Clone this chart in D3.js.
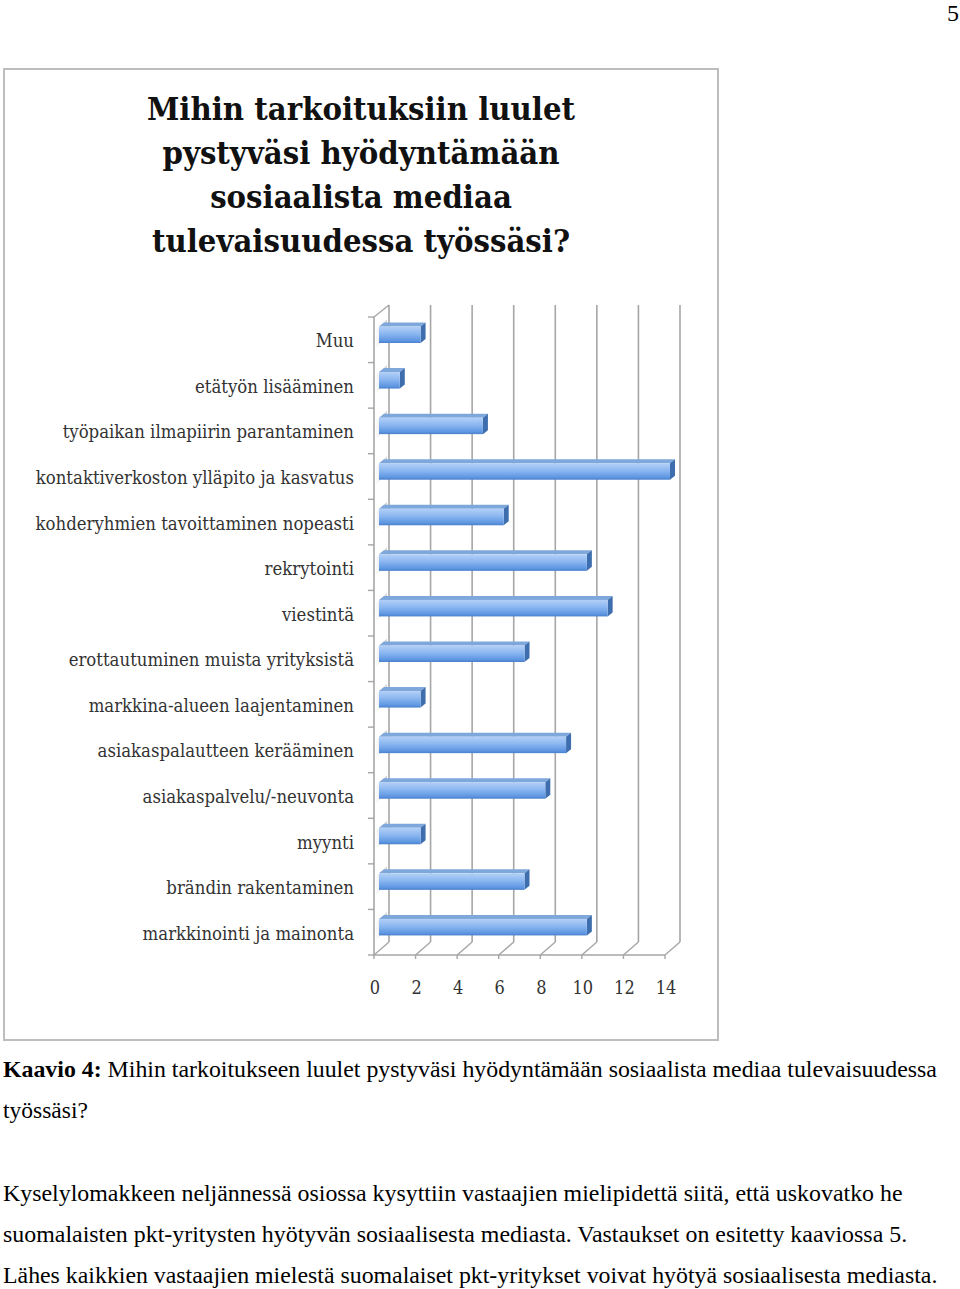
<html>
<head>
<meta charset="utf-8">
<style>
body
{
  margin:0;
  background:#fff;
}
</style>
<script src="https://cdnjs.cloudflare.com/ajax/libs/d3/7.8.5/d3.min.js"></script>
</head>
<body>
<script>
// data
var categories = ["Muu", "etätyön lisääminen", "työpaikan ilmapiirin parantaminen",
  "kontaktiverkoston ylläpito ja kasvatus", "kohderyhmien tavoittaminen nopeasti",
  "rekrytointi", "viestintä", "erottautuminen muista yrityksistä",
  "markkina-alueen laajentaminen", "asiakaspalautteen kerääminen",
  "asiakaspalvelu/-neuvonta", "myynti", "brändin rakentaminen", "markkinointi ja mainonta"];
var values = [2, 1, 5, 14, 6, 10, 11, 7, 2, 9, 8, 2, 7, 10];
var tickValues = [0, 2, 4, 6, 8, 10, 12, 14];
var titleLines = ["Mihin tarkoituksiin luulet", "pystyväsi hyödyntämään", "sosiaalista mediaa", "tulevaisuudessa työssäsi?"];
var captionBold = "Kaavio 4:";
var captionLines = [" Mihin tarkoitukseen luulet pystyväsi hyödyntämään sosiaalista mediaa tulevaisuudessa", "työssäsi?"];
var paraLines = ["Kyselylomakkeen neljännessä osiossa kysyttiin vastaajien mielipidettä siitä, että uskovatko he",
  "suomalaisten pkt-yritysten hyötyvän sosiaalisesta mediasta. Vastaukset on esitetty kaaviossa 5.",
  "Lähes kaikkien vastaajien mielestä suomalaiset pkt-yritykset voivat hyötyä sosiaalisesta mediasta."];

var W = 960, H = 1289;
var svg = d3.select("body").append("svg").attr("width", W).attr("height", H);

var defs = svg.append("defs");
var gFront = defs.append("linearGradient").attr("id", "barFront").attr("x1", 0).attr("y1", 0).attr("x2", 0).attr("y2", 1);
gFront.append("stop").attr("offset", "0%").attr("stop-color", "#b3d0f7");
gFront.append("stop").attr("offset", "45%").attr("stop-color", "#8ab6f0");
gFront.append("stop").attr("offset", "85%").attr("stop-color", "#5f97e2");
gFront.append("stop").attr("offset", "100%").attr("stop-color", "#4a80cc");
var gShadow = defs.append("linearGradient").attr("id", "wallShadow").attr("x1", 1).attr("y1", 0).attr("x2", 0).attr("y2", 0);
gShadow.append("stop").attr("offset", "0%").attr("stop-color", "#c8c8c8");
gShadow.append("stop").attr("offset", "100%").attr("stop-color", "#ffffff");

var serif = "'Liberation Serif', 'Times New Roman', serif";
var cambria = "'DejaVu Serif Condensed', 'DejaVu Serif', serif";

// page number
svg.append("text").attr("x", 959).attr("y", 21).attr("text-anchor", "end")
  .style("font-family", serif).style("font-size", "24px").text("5");

// chart frame
svg.append("rect").attr("x", 4).attr("y", 69).attr("width", 714).attr("height", 971)
  .attr("fill", "none").attr("stroke", "#bdbdbd").attr("stroke-width", 2);

// title
svg.append("g").selectAll("text").data(titleLines).enter().append("text")
  .attr("x", 361).attr("y", function(d, i){ return 120 + i * 44; })
  .attr("text-anchor", "middle")
  .style("font-family", cambria)
  .style("font-weight", "bold").style("font-size", "32.5px").style("fill", "#111")
  .text(function(d){ return d; });

// scales (front plane of the 3D box)
var x = d3.scaleLinear().domain([0, 14]).range([374, 665]);
var y = d3.scaleBand().domain(categories).range([317, 955]);
var depthX = 15, depthY = -13;
var floorY = 955;

var grid = svg.append("g");
// back wall gridlines
grid.selectAll("line.v").data(tickValues).enter().append("line")
  .attr("x1", function(d){ return x(d) + depthX; }).attr("x2", function(d){ return x(d) + depthX; })
  .attr("y1", 305).attr("y2", floorY + depthY)
  .attr("stroke", "#a6a6a6").attr("stroke-width", 1.6);
// floor diagonals
grid.selectAll("line.f").data(tickValues).enter().append("line")
  .attr("x1", function(d){ return x(d); }).attr("x2", function(d){ return x(d) + depthX; })
  .attr("y1", floorY).attr("y2", floorY + depthY)
  .attr("stroke", "#a6a6a6").attr("stroke-width", 1.4);
// left wall
grid.append("line").attr("x1", x(0)).attr("x2", x(0)).attr("y1", 317).attr("y2", floorY)
  .attr("stroke", "#a6a6a6").attr("stroke-width", 1.6);
grid.append("line").attr("x1", x(0)).attr("x2", x(0) + depthX).attr("y1", 317).attr("y2", 317 + depthY + 1)
  .attr("stroke", "#a6a6a6").attr("stroke-width", 1.4);
// floor front edge
grid.append("line").attr("x1", x(0) - 1).attr("x2", x(14)).attr("y1", floorY).attr("y2", floorY)
  .attr("stroke", "#a6a6a6").attr("stroke-width", 1.6);

// x axis ticks and labels
svg.append("g").selectAll("line").data(tickValues).enter().append("line")
  .attr("x1", function(d){ return x(d); }).attr("x2", function(d){ return x(d); })
  .attr("y1", floorY).attr("y2", floorY + 4)
  .attr("stroke", "#a6a6a6").attr("stroke-width", 1.4);
svg.append("g").selectAll("text").data(tickValues).enter().append("text")
  .attr("x", function(d){ return x(d) + 1; }).attr("y", 994)
  .attr("text-anchor", "middle")
  .style("font-family", cambria)
  .style("font-size", "18px").style("fill", "#333")
  .text(function(d){ return d; });

// category axis ticks and labels
var bounds = categories.map(function(c){ return y(c); }).concat([floorY]);
svg.append("g").selectAll("line").data(bounds).enter().append("line")
  .attr("x1", x(0) - 6).attr("x2", x(0))
  .attr("y1", function(d){ return d; }).attr("y2", function(d){ return d; })
  .attr("stroke", "#a6a6a6").attr("stroke-width", 1.4);
svg.append("g").selectAll("text").data(categories).enter().append("text")
  .attr("x", 354).attr("y", function(d){ return y(d) + y.bandwidth() / 2 + 7.5; })
  .attr("text-anchor", "end")
  .style("font-family", cambria)
  .style("font-size", "18.4px").style("fill", "#333")
  .text(function(d){ return d; });

// bars
var bars = svg.append("g").selectAll("g").data(values).enter().append("g");
var bx0 = x(0) + 5, bd = 5;
function barTop(i){ return y(categories[i]) + 9.5; }
var barH = 16.5;

// faint reflection on the left wall
bars.append("path")
  .attr("d", function(d, i){
    var t = barTop(i);
    return "M" + (x(0) + 1) + "," + (t + 4) + "L" + (x(0) + 1 + depthX - 3) + "," + (t - 7) +
      "L" + (x(0) + 1 + depthX - 3) + "," + (t + barH - 7) + "L" + (x(0) + 1) + "," + (t + barH + 6) + "Z";
  })
  .attr("fill", "url(#wallShadow)").attr("opacity", 0.8);
// top face
bars.append("path")
  .attr("d", function(d, i){
    var t = barTop(i), r = x(d) + 5;
    return "M" + bx0 + "," + t + "L" + (bx0 + bd) + "," + (t - 4) + "L" + (r + bd) + "," + (t - 4) + "L" + r + "," + t + "Z";
  })
  .attr("fill", "#7ea7dc");
// side face
bars.append("path")
  .attr("d", function(d, i){
    var t = barTop(i), r = x(d) + 5;
    return "M" + r + "," + t + "L" + (r + bd) + "," + (t - 4) + "L" + (r + bd) + "," + (t + barH - 4) + "L" + r + "," + (t + barH) + "Z";
  })
  .attr("fill", "#3f6eae");
// front face
bars.append("rect")
  .attr("x", bx0).attr("y", function(d, i){ return barTop(i); })
  .attr("width", function(d){ return x(d) + 5 - bx0; }).attr("height", barH)
  .attr("fill", "url(#barFront)");

// caption and paragraph below the chart, squeezed to the line widths in the page
function fit(t, x0, width)
{
  var w = t.node().getBBox().width;
  t.attr("transform", "translate(" + x0 + ",0) scale(" + (width / w) + ",1)");
}
var c1 = svg.append("text").attr("x", 0).attr("y", 1077)
  .style("font-family", serif).style("font-size", "24px");
c1.append("tspan").style("font-weight", "bold").text(captionBold);
c1.append("tspan").text(captionLines[0]);
fit(c1, 3, 935);
var c2 = svg.append("text").attr("x", 0).attr("y", 1118)
  .style("font-family", serif).style("font-size", "24px").text(captionLines[1]);
fit(c2, 3, 85);

var paraWidths = [900, 905, 935];
paraLines.forEach(function(line, i){
  var t = svg.append("text").attr("x", 0).attr("y", 1201 + i * 41)
    .style("font-family", serif).style("font-size", "24px").text(line);
  fit(t, 3, paraWidths[i]);
});
</script>
</body>
</html>
